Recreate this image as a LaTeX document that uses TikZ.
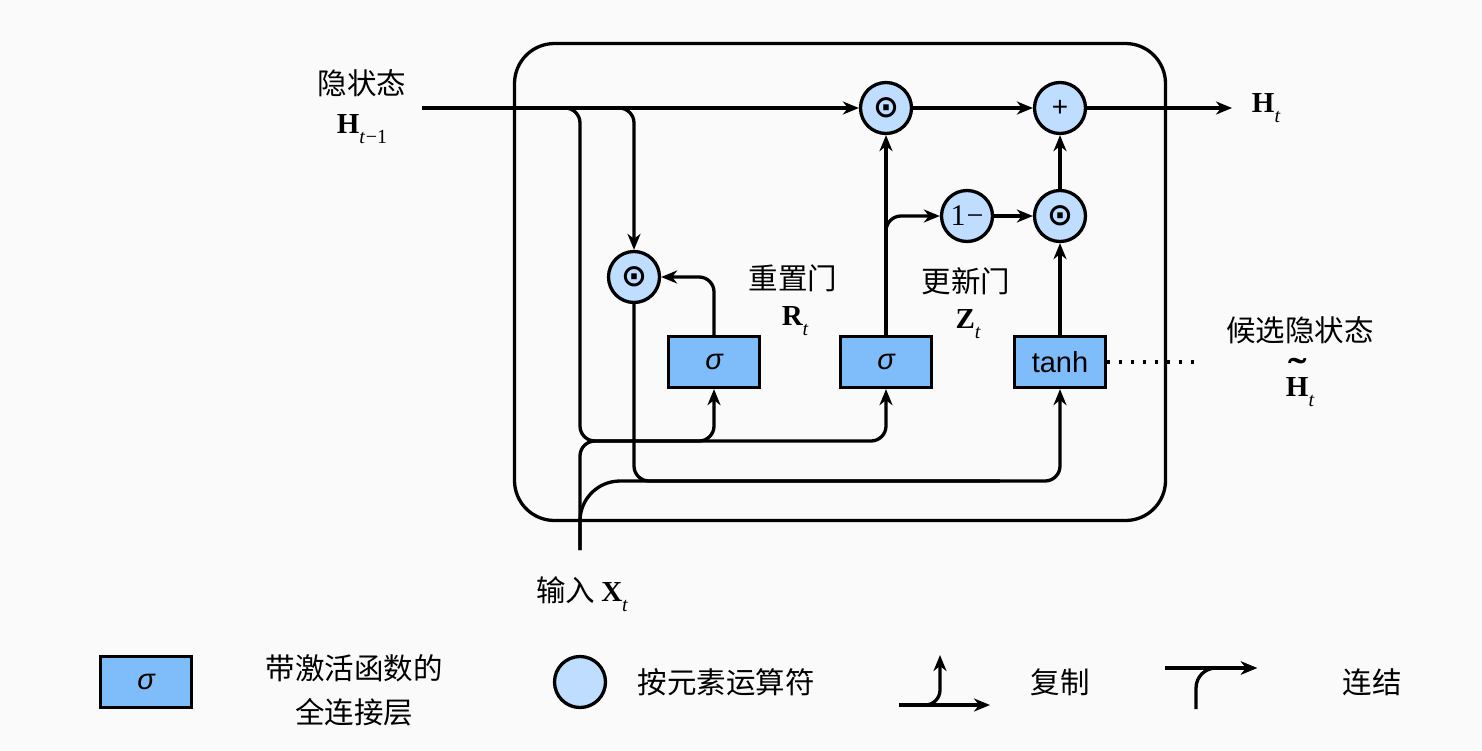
\documentclass[tikz,border=0pt]{standalone}
\usepackage{fontspec}
\newfontfamily\cjk{Noto Sans CJK SC}
\newfontfamily\tms{Liberation Serif}
\newfontfamily\ars{Liberation Sans}
\newfontfamily\djv{DejaVu Sans}
\usetikzlibrary{arrows.meta,calc}
\definecolor{boxc}{RGB}{126,189,250}
\definecolor{circc}{RGB}{191,221,255}
\definecolor{bgc}{RGB}{250,250,250}
\newcommand{\mysub}[1]{\raisebox{-10pt}{\fontsize{20}{20}\selectfont\mdseries\upshape #1}}
\newcommand{\tildeH}{\setbox0\hbox{H}\rlap{\hbox to\wd0{\hss\raisebox{12pt}{\smash{\scalebox{1.9}[1.3]{˜}}}\hss}}\box0}
\begin{document}
\begin{tikzpicture}[x=1pt,y=-1pt, line width=3.3pt,
 arr/.style={-{Stealth[length=16pt,width=13pt,inset=5pt]}},
 fc/.style={draw,line width=3.3pt,fill=boxc,minimum width=91pt,minimum height=51pt,inner sep=0pt},
 op/.style={circle,draw,line width=3.3pt,fill=circc,minimum size=51pt,inner sep=0pt},
 cjkt/.style={font=\cjk\fontsize{29.5}{34}\selectfont, inner sep=0pt},
 mlab/.style={font=\tms\bfseries\fontsize{29}{30}\selectfont, inner sep=0pt},
 sig/.style={font=\ars\itshape\fontsize{29}{30}\selectfont},
 dotop/.style={font=\djv\bfseries\fontsize{31}{31}\selectfont},
 rc/.style={rounded corners=15pt},
]
\fill[bgc] (0,0) rectangle (1482,750);
\useasboundingbox (0,0) rectangle (1482,750);

\node[draw, line width=3.3pt, rounded corners=40pt, minimum width=651pt, minimum height=477pt] (cell) at (840,282) {};

\node[op,dotop] (mt) at (886,108) {⊙};
\node[op,font=\ars\fontsize{28}{30}\selectfont] (plus) at (1060,108) {+};
\node[op,font=\tms\fontsize{30}{30}\selectfont] (one) at (967,216) {1\kern1pt−};
\node[op,dotop] (mb) at (1060,216) {⊙};
\node[op,dotop] (mr) at (634,277) {⊙};
\node[fc,sig] (s1) at (714,362) {σ};
\node[fc,sig] (s2) at (886,362) {σ};
\node[fc,font=\ars\fontsize{29}{30}\selectfont] (th) at (1060,362) {tanh};

\coordinate (hin) at (422,108);
\coordinate (hout) at (1232,108);
\coordinate (xin) at (580,550);
\coordinate (j1) at (580,441);
\coordinate (j2) at (580,481);
\coordinate (j3) at (1060,481);
\coordinate (j4) at (1000,481);
\coordinate (dend) at (1195,362);

\draw[arr] (hin) -- (mt);
\draw[arr,rc] (hin) -| (mr.north);
\draw[arr,rc] (hin) -| (j1) -| (s2.south);
\draw[arr,rc] (xin) -- (j1) -| (s1.south);
\draw[rounded corners=40pt] (xin) -- (j2) -- (j4);
\draw[arr,rc] (mr.south) |- (j3) -- (th.south);
\draw[arr,rc] (s1.north) |- (mr.east);
\draw[arr] (s2.north) -- (mt.south);
\draw[arr,rc] (s2.north) |- (one.west);
\draw[arr] (one) -- (mb);
\draw[arr] (th) -- (mb);
\draw[arr] (mb) -- (plus);
\draw[arr] (mt) -- (plus);
\draw[arr] (plus) -- (hout);
\draw[dash pattern=on 3pt off 9pt] (th.east) -- (dend);

\node[cjkt] (lh) at (362,83) {隐状态};
\node[mlab] (lhs) at (362,129) {H\mysub{\itshape t\kern1pt\upshape −1}};
\node[cjkt] (lr) at (793,278) {重置门};
\node[mlab] (lrs) at (795,321) {R\mysub{\itshape t}};
\node[cjkt] (lz) at (966,281) {更新门};
\node[mlab] (lzs) at (968,324) {Z\mysub{\itshape t}};
\node[cjkt] (lc) at (1300,330) {候选隐状态};
\node[mlab] (lcs) at (1300,392) {\tildeH\mysub{\itshape t}};
\node[mlab] (lho) at (1266,108) {H\mysub{\itshape t}};
\node[inner sep=0pt] (lx) at (582,594) {{\cjk\fontsize{29.5}{34}\selectfont 输入}\hspace{6pt}{\tms\bfseries\fontsize{29}{30}\selectfont X\mysub{\itshape t}}};

\node[fc,sig] (ls) at (146,682) {σ};
\node[cjkt, align=center, font=\cjk\fontsize{29.5}{44}\selectfont] (lst) at (354,690) {带激活函数的\\全连接层};
\node[op] (lcirc) at (580,682) {};
\node[cjkt] (lct) at (726,682) {按元素运算符};
\coordinate (cpa) at (899,705);
\coordinate (cpb) at (990,705);
\coordinate (cpc) at (940,655);
\draw[arr] (cpa) -- (cpb);
\draw[arr,rc] (cpa) -| (cpc);
\node[cjkt] (lcp) at (1060,682) {复制};
\coordinate (cca) at (1196,709);
\coordinate (ccb) at (1165,668);
\coordinate (ccc) at (1257,668);
\draw[arr] (ccb) -- (ccc);
\draw[arr,rounded corners=20pt] (cca) |- (ccc);
\node[cjkt] (lcc) at (1372,682) {连结};
\end{tikzpicture}
\end{document}
